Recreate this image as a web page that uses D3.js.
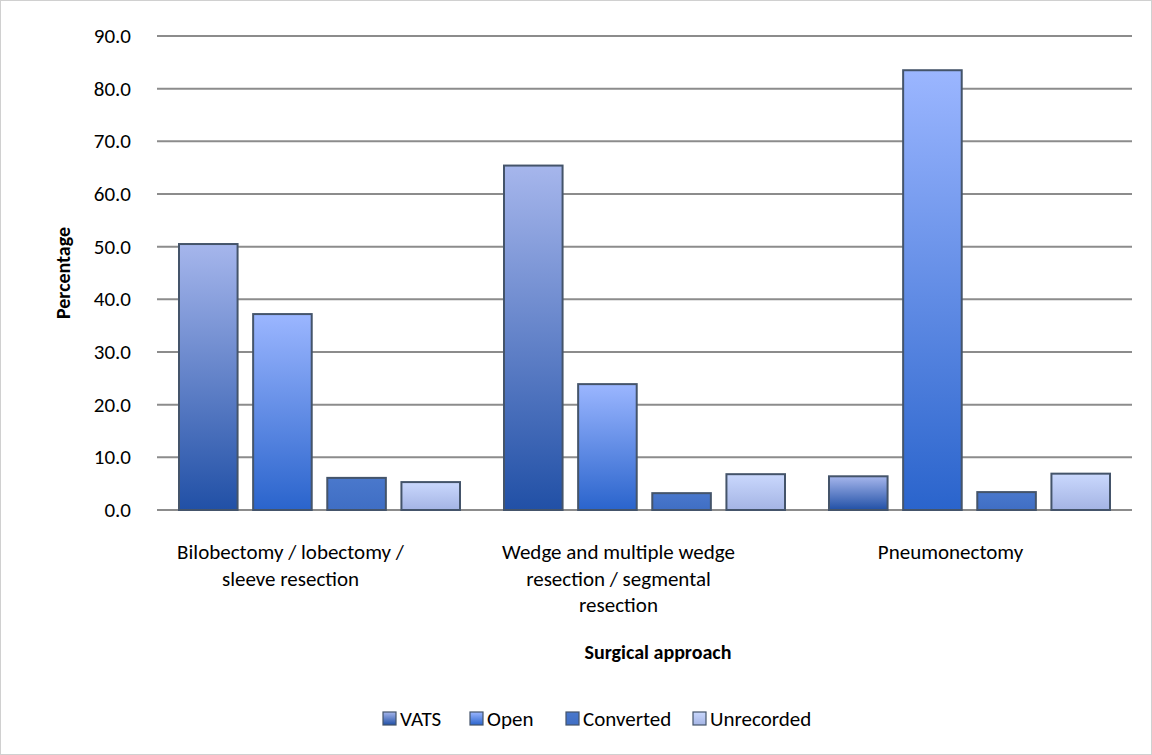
<!DOCTYPE html><html><head><meta charset="utf-8">
<script src="https://cdn.jsdelivr.net/npm/d3@7"></script>
<style>body{margin:0;background:#fff}text{font-family:Carlito,Calibri,"Open Sans",sans-serif}</style></head><body>
<svg id="c" width="1152" height="755"></svg>
<script>
const categories=[["Bilobectomy / lobectomy /","sleeve resection"],["Wedge and multiple wedge","resection / segmental","resection"],["Pneumonectomy"]];
const series=["VATS","Open","Converted","Unrecorded"];
const VATS=[50.5,65.4,6.4];
const Open=[37.2,23.9,83.5];
const Converted=[6.1,3.2,3.4];
const Unrecorded=[5.3,6.8,6.9];
const yTicks=[0,10,20,30,40,50,60,70,80,90];
const vals=[VATS,Open,Converted,Unrecorded];
const grads=[["#a6b6ec","#2150a6"],["#9bb6ff","#2a64cc"],["#4a78cc","#3f6ec4"],["#cad8fd","#a4b4e4"]];
const svg=d3.select("#c");
svg.append("rect").attr("x",0.5).attr("y",0.5).attr("width",1151).attr("height",754).attr("fill","#fff").attr("stroke","#d0d0d0");
const defs=svg.append("defs");
grads.forEach((g,i)=>{const lg=defs.append("linearGradient").attr("id","g"+i).attr("x1",0).attr("y1",0).attr("x2",0).attr("y2",1);
lg.append("stop").attr("offset","0%").attr("stop-color",g[0]);lg.append("stop").attr("offset","100%").attr("stop-color",g[1]);});
const y=d3.scaleLinear().domain([0,90]).range([510,36]);
const x=d3.scaleBand().domain(d3.range(3)).range([157,1132]);
const xi=d3.scaleBand().domain(d3.range(4)).range([22,303]).paddingInner(0.21);
yTicks.forEach(t=>{svg.append("line").attr("x1",157).attr("x2",1132).attr("y1",y(t)).attr("y2",y(t)).attr("stroke","#8c8c8c").attr("stroke-width",2);
svg.append("text").attr("x",131).attr("y",y(t)+7).attr("text-anchor","end").attr("font-size",21).attr("fill","#000").text(t.toFixed(1));});
vals.forEach((v,s)=>{v.forEach((d,c)=>{svg.append("rect").attr("x",x(c)+xi(s)).attr("y",y(d)).attr("width",xi.bandwidth()).attr("height",y(0)-y(d))
.attr("fill",`url(#g${s})`).attr("stroke","#44546a").attr("stroke-width",2);});});
const offs=[-29,-26,-19];
categories.forEach((lines,c)=>{const cx=x(c)+x.bandwidth()/2+offs[c];
lines.forEach((l,k)=>svg.append("text").attr("x",cx).attr("y",559+k*26.5).attr("text-anchor","middle").attr("font-size",21).text(l));});
svg.append("text").attr("x",658).attr("y",659).attr("text-anchor","middle").attr("font-size",20).attr("font-weight","bold").text("Surgical approach");
svg.append("text").attr("transform","translate(70,273) rotate(-90)").attr("text-anchor","middle").attr("font-size",20).attr("font-weight","bold").text("Percentage");
const lx=[383,470,566,693];
series.forEach((s,i)=>{svg.append("rect").attr("x",lx[i]).attr("y",712).attr("width",13).attr("height",13).attr("fill",`url(#g${i})`).attr("stroke","#44546a").attr("stroke-width",1.2);
svg.append("text").attr("x",lx[i]+17).attr("y",726).attr("font-size",21).text(s);});
</script></body></html>
